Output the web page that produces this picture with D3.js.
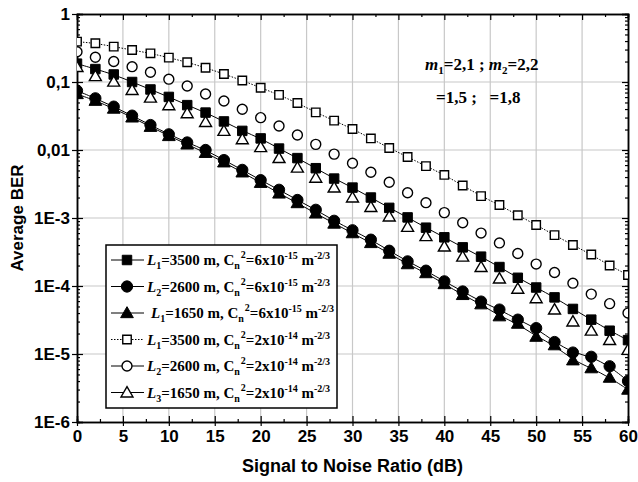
<!DOCTYPE html>
<html>
<head>
<meta charset="utf-8">
<script src="https://cdn.jsdelivr.net/npm/d3@7"></script>
<style>
    body { margin: 0; background: #fff; }
    svg { display: block; }
</style>
</head>
<body>
<svg id="chart" width="638" height="482"></svg>
<script>
// SNR values (dB), markers every 2 dB
var snr = d3.range(0, 61, 2);

// Average BER
var ber_L1_6e15 = [0.186, 0.155, 0.129, 0.1, 0.0776, 0.0603, 0.0457, 0.0355, 0.0263, 0.0191, 0.0148,
    0.0105, 7.6e-3, 5.4e-3, 3.8e-3, 2.8e-3, 2.0e-3, 1.41e-3, 1.02e-3, 7.2e-4, 5.2e-4,
    3.7e-4, 2.7e-4, 1.9e-4, 1.32e-4, 9.5e-5, 6.8e-5, 4.6e-5, 3.2e-5, 2.2e-5, 1.6e-5];
var ber_L2_6e15 = [0.0746, 0.0575, 0.0434, 0.032, 0.0233, 0.017, 0.0129, 0.01, 7.1e-3, 5.1e-3, 3.6e-3,
    2.6e-3, 1.84e-3, 1.32e-3, 9.1e-4, 6.6e-4, 4.8e-4, 3.3e-4, 2.3e-4, 1.68e-4, 1.17e-4,
    8.3e-5, 5.9e-5, 4.5e-5, 3.2e-5, 2.4e-5, 1.5e-5, 1.05e-5, 9.1e-6, 6.6e-6, 4.0e-6];
var ber_L3_6e15 = [0.0667, 0.0531, 0.0407, 0.0302, 0.022, 0.0161, 0.0121, 9.1e-3, 6.6e-3, 4.7e-3, 3.3e-3,
    2.3e-3, 1.66e-3, 1.17e-3, 8.3e-4, 6.0e-4, 4.3e-4, 3.0e-4, 2.1e-4, 1.55e-4, 1.07e-4,
    7.4e-5, 5.4e-5, 3.6e-5, 2.8e-5, 1.8e-5, 1.35e-5, 8.1e-6, 6.2e-6, 4.5e-6, 3.0e-6];
var ber_L1_2e14 = [0.392, 0.371, 0.331, 0.295, 0.264, 0.228, 0.195, 0.162, 0.131, 0.105, 0.0824,
    0.0646, 0.049, 0.0358, 0.027, 0.0204, 0.0148, 0.0107, 7.9e-3, 5.8e-3, 4.3e-3,
    3.0e-3, 2.1e-3, 1.55e-3, 1.1e-3, 7.9e-4, 5.6e-4, 4.0e-4, 2.9e-4, 2.0e-4, 1.45e-4];
var ber_L2_2e14 = [0.279, 0.231, 0.2, 0.168, 0.139, 0.11, 0.0873, 0.0667, 0.0525, 0.0398, 0.0299,
    0.0225, 0.0166, 0.0121, 8.7e-3, 6.4e-3, 4.7e-3, 3.35e-3, 2.35e-3, 1.68e-3, 1.2e-3,
    8.5e-4, 6.0e-4, 4.3e-4, 3.0e-4, 2.1e-4, 1.58e-4, 1.1e-4, 7.6e-5, 5.5e-5, 4.0e-5];
var ber_L3_2e14 = [0.166, 0.122, 0.101, 0.0762, 0.0589, 0.0454, 0.0347, 0.0258, 0.0191, 0.0144, 0.011,
    7.6e-3, 5.5e-3, 3.9e-3, 2.8e-3, 2.0e-3, 1.45e-3, 1.05e-3, 7.4e-4, 5.4e-4, 3.8e-4,
    2.7e-4, 1.9e-4, 1.29e-4, 9.1e-5, 6.6e-5, 4.5e-5, 3.0e-5, 2.2e-5, 1.6e-5, 1.15e-5];

// Legend labels: [L symbol, L index, length, Cn2 mantissa, Cn2 exponent]
var legend_labels = [
    ["1", "3500", "6", "-15"],
    ["2", "2600", "6", "-15"],
    ["1", "1650", "6", "-15"],
    ["1", "3500", "2", "-14"],
    ["2", "2600", "2", "-14"],
    ["3", "1650", "2", "-14"]
];

var x_ticks = d3.range(0, 61, 5);
var y_ticks = [1, 0.1, 0.01, 1e-3, 1e-4, 1e-5, 1e-6];
var y_tick_labels = ["1", "0,1", "0,01", "1E-3", "1E-4", "1E-5", "1E-6"];

var series = [
    {values: ber_L1_6e15, marker: "square", filled: true, line: "solid"},
    {values: ber_L2_6e15, marker: "circle", filled: true, line: "solid"},
    {values: ber_L3_6e15, marker: "triangle", filled: true, line: "solid"},
    {values: ber_L1_2e14, marker: "square", filled: false, line: "dotted"},
    {values: ber_L2_2e14, marker: "circle", filled: false, line: "none"},
    {values: ber_L3_2e14, marker: "triangle", filled: false, line: "none"}
];

var svg = d3.select("#chart"),
    margin = {top: 14, right: 10, bottom: 60, left: 77},
    width = 628 - margin.left,
    height = 422 - margin.top;

var x = d3.scaleLinear().domain([0, 60]).range([0, width]),
    y = d3.scaleLog().domain([1e-6, 1]).range([height, 0]);

var g = svg.append("g")
    .attr("transform", "translate(" + margin.left + "," + margin.top + ")");

svg.append("defs").append("clipPath")
    .attr("id", "plot-clip")
    .append("rect")
    .attr("width", width)
    .attr("height", height);

// Grid lines
g.append("g")
    .selectAll("line")
    .data(x_ticks.slice(1, -1))
    .enter()
    .append("line")
    .attr("x1", function (d) { return x(d); })
    .attr("x2", function (d) { return x(d); })
    .attr("y1", 0)
    .attr("y2", height)
    .attr("stroke", "#c8c8c8")
    .attr("stroke-width", 1.2);

g.append("g")
    .selectAll("line")
    .data(y_ticks.slice(1, -1))
    .enter()
    .append("line")
    .attr("y1", function (d) { return y(d); })
    .attr("y2", function (d) { return y(d); })
    .attr("x1", 0)
    .attr("x2", width)
    .attr("stroke", "#c8c8c8")
    .attr("stroke-width", 1.2);

// Minor ticks
var y_minor = [];
for (var e = -6; e < 0; e++) {
    for (var m = 2; m < 10; m++) {
        y_minor.push(m * Math.pow(10, e));
    }
}
var x_minor = d3.range(2.5, 60, 5);

function tickFormatY(d) {
    return y_tick_labels[y_ticks.indexOf(d)];
}

// Axes, ticks pointing inward
var axisBottom = d3.axisTop(x).tickValues(x_ticks).tickSize(6).tickFormat(""),
    axisTop = d3.axisBottom(x).tickValues(x_ticks).tickSize(6).tickFormat(""),
    axisLeft = d3.axisRight(y).tickValues(y_ticks).tickSize(6).tickFormat(""),
    axisRight = d3.axisLeft(y).tickValues(y_ticks).tickSize(6).tickFormat("");

g.append("g").attr("class", "axis").attr("transform", "translate(0," + height + ")").call(axisBottom);
g.append("g").attr("class", "axis").call(axisTop);
g.append("g").attr("class", "axis").call(axisLeft);
g.append("g").attr("class", "axis").attr("transform", "translate(" + width + ",0)").call(axisRight);

g.append("g").attr("class", "axis minor").attr("transform", "translate(0," + height + ")")
    .call(d3.axisTop(x).tickValues(x_minor).tickSize(3).tickFormat(""));
g.append("g").attr("class", "axis minor")
    .call(d3.axisBottom(x).tickValues(x_minor).tickSize(3).tickFormat(""));
g.append("g").attr("class", "axis minor")
    .call(d3.axisRight(y).tickValues(y_minor).tickSize(3).tickFormat(""));
g.append("g").attr("class", "axis minor").attr("transform", "translate(" + width + ",0)")
    .call(d3.axisLeft(y).tickValues(y_minor).tickSize(3).tickFormat(""));

// Small outward stubs at major ticks (as in the original)
g.append("g").attr("transform", "translate(0," + height + ")")
    .call(d3.axisBottom(x).tickValues(x_ticks).tickSize(4).tickPadding(4))
    .call(function (s) { s.select(".domain").remove(); })
    .selectAll("text")
    .attr("font-family", "'Liberation Sans', Arial, sans-serif")
    .attr("font-weight", "bold")
    .attr("font-size", "17px")
    .attr("fill", "#000");

g.append("g")
    .call(d3.axisLeft(y).tickValues(y_ticks).tickSize(5).tickPadding(2).tickFormat(tickFormatY))
    .call(function (s) { s.select(".domain").remove(); })
    .selectAll("text")
    .attr("font-family", "'Liberation Sans', Arial, sans-serif")
    .attr("font-weight", "bold")
    .attr("font-size", "17px")
    .attr("fill", "#000");

g.selectAll(".axis path.domain").attr("stroke", "#000").attr("stroke-width", 1.5);
g.selectAll(".tick line").attr("stroke", "#000").attr("stroke-width", 1.2);

// Axis captions
svg.append("text")
    .attr("x", margin.left + width / 2)
    .attr("y", 472)
    .attr("text-anchor", "middle")
    .attr("font-family", "'Liberation Sans', Arial, sans-serif")
    .attr("font-weight", "bold")
    .attr("font-size", "18px")
    .text("Signal to Noise Ratio (dB)");

svg.append("text")
    .attr("transform", "translate(23," + (margin.top + height / 2) + ") rotate(-90)")
    .attr("text-anchor", "middle")
    .attr("font-family", "'Liberation Sans', Arial, sans-serif")
    .attr("font-weight", "bold")
    .attr("font-size", "17px")
    .text("Average BER");

// Marker drawing
function drawMarker(sel, marker, filled) {
    var path;
    if (marker === "square") {
        path = d3.symbol().type(d3.symbolSquare).size(filled ? 90 : 72);
    } else if (marker === "circle") {
        path = d3.symbol().type(d3.symbolCircle).size(filled ? 100 : 78);
    } else {
        path = d3.symbol().type(d3.symbolTriangle).size(filled ? 70 : 62);
    }
    sel.append("path")
        .attr("d", path)
        .attr("fill", filled ? "#000" : "#fff")
        .attr("stroke", "#000")
        .attr("stroke-width", filled ? 1 : 1.4);
}

var plot = g.append("g").attr("clip-path", "url(#plot-clip)");

var line = d3.line()
    .curve(d3.curveBasis)
    .x(function (d) { return x(d[0]); })
    .y(function (d) { return y(d[1]); });

series.forEach(function (s) {
    if (s.line === "none") return;
    plot.append("path")
        .datum(snr.map(function (v, i) { return [v, s.values[i]]; }))
        .attr("fill", "none")
        .attr("stroke", "#000")
        .attr("stroke-width", 1)
        .attr("stroke-dasharray", s.line === "dotted" ? "1.5,1.5" : null)
        .attr("d", line);
});

series.forEach(function (s) {
    plot.append("g")
        .selectAll("g")
        .data(snr.map(function (v, i) { return [v, s.values[i]]; }))
        .enter()
        .append("g")
        .attr("transform", function (d) {
            var dy = s.marker === "triangle" ? 1 : 0;
            return "translate(" + x(d[0]) + "," + (y(d[1]) + dy) + ")";
        })
        .call(function (sel) { drawMarker(sel, s.marker, s.filled); });
});

// Legend
var legend = svg.append("g").attr("transform", "translate(106,245)");

legend.append("rect")
    .attr("width", 231)
    .attr("height", 163)
    .attr("fill", "#fff")
    .attr("stroke", "#000")
    .attr("stroke-width", 1.5);

var serif = "'Liberation Serif', 'Times New Roman', serif";

legend_labels.forEach(function (lab, i) {
    var s = series[i],
        ly = 15 + i * 26.5;

    legend.append("line")
        .attr("x1", 5)
        .attr("x2", 38)
        .attr("y1", ly)
        .attr("y2", ly)
        .attr("stroke", "#000")
        .attr("stroke-width", 1)
        .attr("stroke-dasharray", s.line === "dotted" ? "1.5,1.5" : null);

    var mg = legend.append("g").attr("transform", "translate(21," + (ly + (s.marker === "triangle" ? 1 : 0)) + ")");
    drawMarker(mg, s.marker, s.filled);

    var t = legend.append("text")
        .attr("x", i === 2 ? 45 : 41)
        .attr("y", ly + 5)
        .attr("font-family", serif)
        .attr("font-weight", "bold")
        .attr("font-size", "15px");
    t.append("tspan").attr("font-style", "italic").text("L");
    t.append("tspan").attr("font-size", "10px").attr("dy", 4).text(lab[0]);
    t.append("tspan").attr("dy", -4).text("=" + lab[1] + " m, C");
    t.append("tspan").attr("font-size", "10px").attr("dy", 4).text("n");
    t.append("tspan").attr("font-size", "10px").attr("dy", -11).attr("dx", 1).text("2");
    t.append("tspan").attr("dy", 7).text("=" + lab[2] + "x10");
    t.append("tspan").attr("font-size", "10px").attr("dy", -6).text(lab[3]);
    t.append("tspan").attr("dy", 6).text(" m");
    t.append("tspan").attr("font-size", "10px").attr("dy", -6).text("-2/3");
});

// Parameter annotation
var ann = svg.append("g")
    .attr("font-family", serif)
    .attr("font-weight", "bold")
    .attr("font-size", "17px");

var a1 = ann.append("text").attr("x", 425).attr("y", 70);
a1.append("tspan").attr("font-style", "italic").text("m");
a1.append("tspan").attr("font-size", "11px").attr("dy", 4).text("1");
a1.append("tspan").attr("dy", -4).text("=2,1 ; ");
a1.append("tspan").attr("font-style", "italic").text("m");
a1.append("tspan").attr("font-size", "11px").attr("dy", 4).text("2");
a1.append("tspan").attr("dy", -4).text("=2,2");

ann.append("text")
    .attr("x", 436)
    .attr("y", 103)
    .attr("xml:space", "preserve")
    .text("=1,5 ;   =1,8");
</script>
</body>
</html>
